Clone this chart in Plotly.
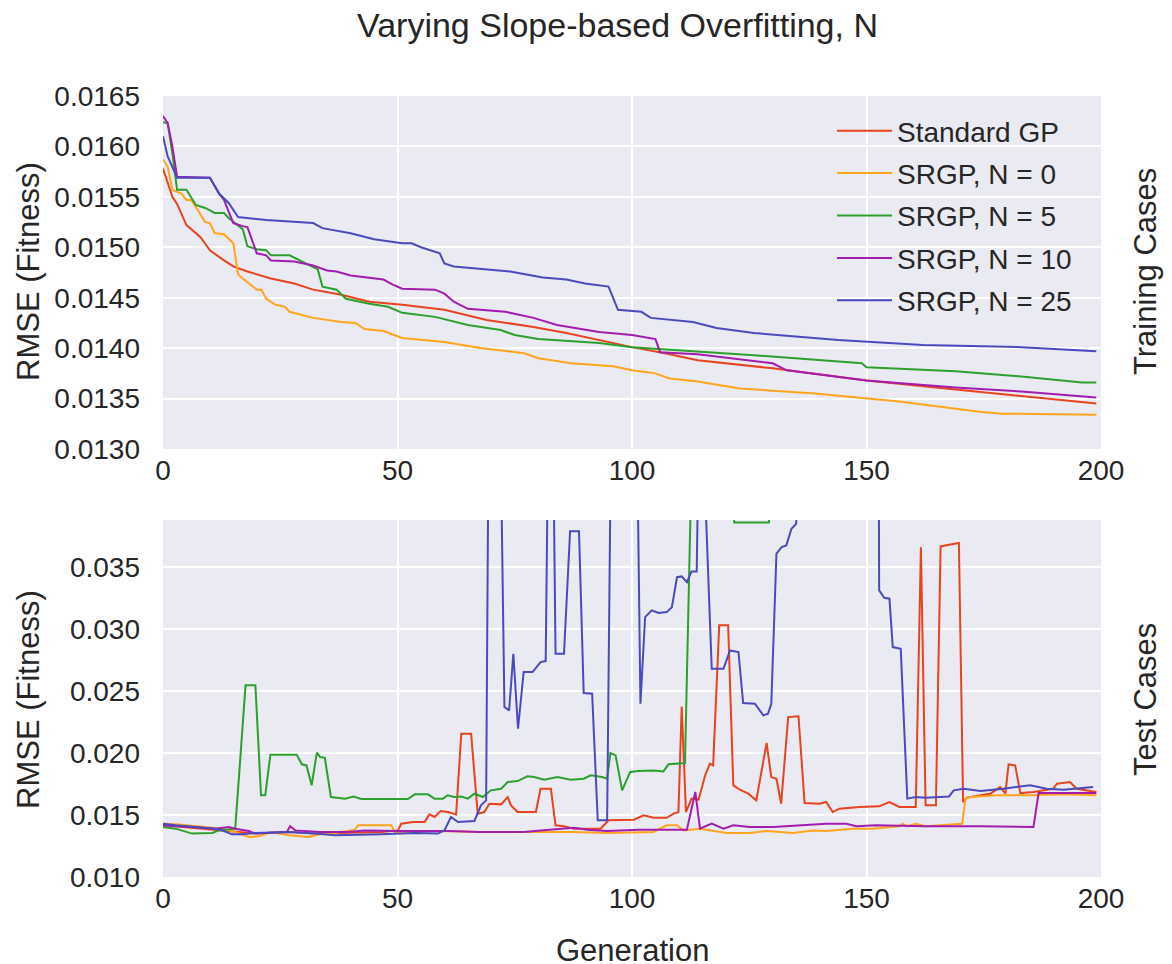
import plotly.graph_objects as go
from plotly.subplots import make_subplots

# ---------------- data ----------------
series_names = ["Standard GP", "SRGP, N = 0", "SRGP, N = 5", "SRGP, N = 10", "SRGP, N = 25"]
series_colors = ["#E8431F", "#FFA41C", "#2CA02C", "#A31CB0", "#4A4ABF"]

# Training cases (top panel)
train_gp_gen = [0, 2, 3, 5, 8, 10, 13, 15, 18, 23, 28, 32, 38, 44, 51, 60, 69, 79, 86, 93, 100, 107, 114, 130, 150, 169, 190, 199]
train_gp_rmse = [0.01578, 0.01550, 0.01543, 0.01522, 0.01510, 0.01497, 0.01487, 0.01481, 0.01476, 0.01469, 0.01464, 0.01458,
                 0.01453, 0.01446, 0.01443, 0.01438, 0.01428, 0.01421, 0.01415, 0.01408, 0.01401, 0.01395, 0.01388, 0.01380,
                 0.01368, 0.01359, 0.01349, 0.01345]

train_n0_gen = [0, 1, 2, 4, 5, 6, 7, 9, 10, 11, 13, 15, 16, 17, 20, 21, 22, 24, 26, 27, 32, 38, 41, 43, 47, 51, 60, 68, 77,
                80, 87, 96, 100, 105, 108, 114, 123, 139, 157, 174, 179, 199]
train_n0_rmse = [0.01587, 0.01580, 0.01557, 0.01553, 0.01547, 0.01547, 0.01540, 0.01525, 0.01524, 0.01514, 0.01513, 0.01504,
                 0.01473, 0.01469, 0.01458, 0.01458, 0.01449, 0.01443, 0.01441, 0.01436, 0.01430, 0.01426, 0.01425, 0.01419,
                 0.01417, 0.01410, 0.01406, 0.01400, 0.01395, 0.01390, 0.01385, 0.01382, 0.01378, 0.01375, 0.01370, 0.01367,
                 0.01360, 0.01355, 0.01347, 0.01337, 0.01335, 0.01334]

train_n5_gen = [0, 1, 2, 3, 5, 7, 9, 11, 13, 14, 17, 18, 20, 22, 23, 27, 30, 33, 34, 37, 39, 44, 48, 51, 58, 65, 72, 75, 80,
                86, 93, 100, 107, 114, 126, 149, 150, 169, 183, 196, 199]
train_n5_rmse = [0.01624, 0.01623, 0.01593, 0.01557, 0.01557, 0.01542, 0.01539, 0.01534, 0.01534, 0.01529, 0.01518, 0.01501,
                 0.01498, 0.01497, 0.01492, 0.01492, 0.01485, 0.01478, 0.01461, 0.01458, 0.01449, 0.01444, 0.01441, 0.01435,
                 0.01431, 0.01423, 0.01418, 0.01413, 0.01409, 0.01407, 0.01405, 0.01401, 0.01399, 0.01397, 0.01393, 0.01385,
                 0.01381, 0.01377, 0.01372, 0.01366, 0.01366]

train_n10_gen = [0, 1, 2, 3, 10, 12, 13, 15, 17, 18, 20, 22, 23, 28, 32, 35, 37, 40, 47, 49, 51, 58, 60, 62, 65, 73, 79, 84,
                 93, 100, 105, 106, 114, 130, 133, 150, 169, 183, 199]
train_n10_rmse = [0.01630, 0.01623, 0.01600, 0.01570, 0.01569, 0.01553, 0.01547, 0.01524, 0.01521, 0.01520, 0.01494, 0.01492,
                  0.01487, 0.01486, 0.01482, 0.01477, 0.01476, 0.01472, 0.01468, 0.01463, 0.01459, 0.01458, 0.01454, 0.01446,
                  0.01439, 0.01436, 0.01430, 0.01423, 0.01416, 0.01413, 0.01409, 0.01396, 0.01394, 0.01385, 0.01378, 0.01368,
                  0.01361, 0.01357, 0.01351]

train_n25_gen = [0, 1, 3, 10, 12, 14, 16, 18, 22, 32, 34, 40, 45, 51, 53, 55, 59, 60, 62, 74, 81, 86, 90, 95, 97, 102, 104,
                 113, 118, 126, 144, 162, 183, 199]
train_n25_rmse = [0.01610, 0.01590, 0.01569, 0.01569, 0.01553, 0.01544, 0.01530, 0.01529, 0.01527, 0.01524, 0.01519, 0.01514,
                  0.01508, 0.01504, 0.01504, 0.01500, 0.01494, 0.01484, 0.01481, 0.01476, 0.01470, 0.01468, 0.01464, 0.01461,
                  0.01438, 0.01436, 0.01430, 0.01426, 0.01420, 0.01415, 0.01408, 0.01403, 0.01401, 0.01397]

# Test cases (bottom panel); values above 0.0388 run off the top of the panel
test_gp_gen = [0, 12.6, 19.7, 26.8, 32.4, 46.6, 50.1, 50.8, 53.3, 55.8, 56.8, 57.9, 59.2, 60.7, 62.5, 63.6, 65.7, 67.1, 68.5,
               69.6, 72.1, 73.5, 74.2, 75.6, 79.5, 80.5, 82.7, 83.7, 85.5, 87.6, 93.3, 95, 97.5, 100.4, 102.5, 104.6, 107.4,
               108.9, 109.9, 110.6, 111.5, 112.7, 114.2, 115.6, 116.6, 117.3, 118.6, 120.5, 121.6, 123, 124.8, 126.5, 128.7,
               129.7, 130.8, 131.8, 133.3, 135.5, 136.8, 140, 141.4, 142.8, 144.2, 148.5, 152.7, 154.9, 157, 160.5, 161.6,
               162.6, 164.8, 165.8, 167.6, 169.7, 170.6, 171.4, 174.3, 176.4, 178.5, 179.6, 180.3, 181.7, 182.8, 185.6,
               189.8, 190.6, 193.4, 194.8, 199]
test_gp_rmse = [0.01417, 0.01376, 0.01350, 0.01363, 0.01350, 0.01363, 0.01376, 0.01430, 0.01444, 0.01444, 0.01505, 0.01484,
                0.01532, 0.01524, 0.01505, 0.02156, 0.02156, 0.01511, 0.01524, 0.01591, 0.01586, 0.01645, 0.01578, 0.01524,
                0.01524, 0.01712, 0.01712, 0.01417, 0.01409, 0.01390, 0.01390, 0.01457, 0.01462, 0.01462, 0.01497, 0.01478,
                0.01478, 0.01511, 0.01524, 0.02376, 0.01524, 0.01632, 0.01624, 0.01820, 0.01914, 0.01900, 0.03030, 0.03030,
                0.01739, 0.01704, 0.01672, 0.01618, 0.02081, 0.01806, 0.01793, 0.01591, 0.02290, 0.02296, 0.01597, 0.01591,
                0.01605, 0.01524, 0.01551, 0.01565, 0.01570, 0.01605, 0.01565, 0.01565, 0.03661, 0.01578, 0.01578, 0.03667,
                0.03680, 0.03694, 0.01605, 0.01640, 0.01659, 0.01672, 0.01726, 0.01672, 0.01909, 0.01900, 0.01677, 0.01685,
                0.01712, 0.01753, 0.01766, 0.01712, 0.01685]

test_n0_gen = [0, 2.7, 9, 12.6, 15.4, 18.3, 20.4, 23.2, 26.8, 31, 33.5, 36.7, 40.9, 41.6, 48.7, 49.4, 60.7, 67.4, 87.6, 94.7,
               104.6, 107.4, 109.6, 111, 114.5, 117.3, 120.2, 125.1, 128.7, 134.3, 138.6, 141.4, 143.5, 147.1, 151.3, 157,
               157.7, 158.7, 160.5, 162.6, 170.4, 171.1, 172.1, 177.8, 184.9, 192, 199]
test_n0_rmse = [0.01430, 0.01425, 0.01403, 0.01390, 0.01363, 0.01323, 0.01328, 0.01363, 0.01336, 0.01323, 0.01344, 0.01355,
                0.01382, 0.01417, 0.01417, 0.01363, 0.01371, 0.01363, 0.01363, 0.01355, 0.01363, 0.01417, 0.01417, 0.01376,
                0.01390, 0.01371, 0.01355, 0.01355, 0.01371, 0.01355, 0.01376, 0.01371, 0.01376, 0.01390, 0.01390, 0.01409,
                0.01430, 0.01409, 0.01430, 0.01409, 0.01430, 0.01632, 0.01645, 0.01659, 0.01659, 0.01667, 0.01659]

test_n5_gen = [0, 2.7, 6.2, 10.5, 11.9, 13.3, 15.4, 17.6, 19.7, 20.9, 21.8, 22.9, 28.5, 29.6, 30.6, 31.7, 32.8, 33.5, 34.5,
               35.8, 38.8, 40.6, 42.3, 52.2, 53.7, 56.5, 57.9, 59.7, 60.7, 62.1, 63.6, 65, 66.4, 68.2, 69.9, 72.1, 73.5, 75.6,
               77.7, 79.1, 81.3, 84.1, 86.9, 89.7, 91.2, 93.6, 94.7, 95.4, 96.5, 97.9, 99.6, 101.4, 104.6, 106.7, 107.8,
               111.3, 112.8, 121.4, 121.8, 129.2, 129.6, 199]
test_n5_rmse = [0.01403, 0.01390, 0.01350, 0.01355, 0.01376, 0.01380, 0.01390, 0.02546, 0.02546, 0.01659, 0.01659, 0.01987,
                0.01987, 0.01909, 0.01900, 0.01740, 0.02003, 0.01968, 0.01962, 0.01645, 0.01632, 0.01650, 0.01629, 0.01629,
                0.01667, 0.01667, 0.01632, 0.01632, 0.01659, 0.01645, 0.01650, 0.01632, 0.01672, 0.01645, 0.01699, 0.01712,
                0.01766, 0.01774, 0.01812, 0.01806, 0.01785, 0.01806, 0.01785, 0.01793, 0.01820, 0.01806, 0.01793, 0.02000,
                0.01981, 0.01699, 0.01847, 0.01855, 0.01860, 0.01852, 0.01909, 0.01919, 0.04500, 0.04500, 0.03860, 0.03860,
                0.04500, 0.04500]

test_n10_gen = [0, 11.2, 14, 15.4, 18.3, 19.7, 26.4, 27.1, 28.2, 33.5, 39.5, 43, 50.1, 60.7, 67.4, 77, 80.5, 87.6, 90.5,
                94.7, 101.4, 111.7, 113.5, 114.5, 117, 119.5, 121.6, 125.1, 130.1, 135.4, 141.4, 145.7, 147.8, 152, 162.6,
                174.3, 185.6, 186.7, 192, 199]
test_n10_rmse = [0.01417, 0.01390, 0.01403, 0.01390, 0.01371, 0.01350, 0.01363, 0.01409, 0.01376, 0.01363, 0.01363, 0.01376,
                 0.01371, 0.01371, 0.01363, 0.01363, 0.01376, 0.01398, 0.01382, 0.01371, 0.01382, 0.01382, 0.01686, 0.01390,
                 0.01430, 0.01390, 0.01417, 0.01403, 0.01403, 0.01417, 0.01430, 0.01430, 0.01409, 0.01417, 0.01409, 0.01409,
                 0.01403, 0.01677, 0.01677, 0.01677]

test_n25_gen = [0, 2.7, 11.2, 12.6, 14.7, 16.8, 19.7, 26.8, 32.4, 36.7, 46.6, 53.7, 58.6, 60, 61.4, 62.9, 66.4, 67.8, 68.9,
                69.4, 72.0, 72.8, 73.8, 74.7, 75.7, 76.9, 78.8, 80.5, 81.6, 82.1, 83.2, 83.7, 85.5, 86.8, 88.7, 89.7, 91.5,
                92.7, 94.7, 95.5, 101.1, 101.8, 102.8, 104.2, 105.7, 107.4, 108.5, 109.6, 110.6, 111.7, 112.7, 113.8, 114.2,
                115.2, 117, 119.5, 120.9, 122.7, 123.7, 126.2, 128, 129, 129.7, 130.8, 131.9, 132.9, 134, 135, 135.7, 152.6,
                152.7, 153.8, 154.9, 155.6, 157.3, 158.7, 160.5, 162.6, 167.6, 168.6, 170.7, 174.3, 179.2, 184.9, 188.4,
                192, 198.3]
test_n25_rmse = [0.01430, 0.01417, 0.01390, 0.01376, 0.01344, 0.01344, 0.01355, 0.01363, 0.01350, 0.01336, 0.01344, 0.01355,
                 0.01350, 0.01376, 0.01484, 0.01444, 0.01452, 0.01578, 0.01618, 0.04500, 0.04500, 0.02371, 0.02344, 0.02801,
                 0.02196, 0.02653, 0.02653, 0.02734, 0.02742, 0.04500, 0.04500, 0.02801, 0.02801, 0.03790, 0.03790, 0.02484,
                 0.02478, 0.01457, 0.01457, 0.04500, 0.04500, 0.02398, 0.03097, 0.03151, 0.03130, 0.03137, 0.03177, 0.03419,
                 0.03425, 0.03379, 0.03465, 0.03465, 0.04500, 0.04500, 0.02680, 0.02680, 0.02828, 0.02815, 0.02403, 0.02398,
                 0.02304, 0.02317, 0.02398, 0.03608, 0.03661, 0.03675, 0.03809, 0.03850, 0.04500, 0.04500, 0.03312, 0.03253,
                 0.03245, 0.02855, 0.02841, 0.01632, 0.01645, 0.01640, 0.01650, 0.01699, 0.01712, 0.01694, 0.01712, 0.01740,
                 0.01712, 0.01704, 0.01726]

x_ticks = [0, 50, 100, 150, 200]
train_y_ticks = [0.0130, 0.0135, 0.0140, 0.0145, 0.0150, 0.0155, 0.0160, 0.0165]
test_y_ticks = [0.010, 0.015, 0.020, 0.025, 0.030, 0.035]

train_gens = [train_gp_gen, train_n0_gen, train_n5_gen, train_n10_gen, train_n25_gen]
train_vals = [train_gp_rmse, train_n0_rmse, train_n5_rmse, train_n10_rmse, train_n25_rmse]
test_gens = [test_gp_gen, test_n0_gen, test_n5_gen, test_n10_gen, test_n25_gen]
test_vals = [test_gp_rmse, test_n0_rmse, test_n5_rmse, test_n10_rmse, test_n25_rmse]

# ---------------- figure ----------------
OFF = 8                      # page body margin in the browser
W, H = 1172 - OFF, 964 - OFF
PL, PR, PT, PB = 163, 1101, 96, 877   # plot block edges in page pixels
ML, MR, MT, MB = PL - OFF, W - (PR - OFF), PT - OFF, H - (PB - OFF)
plot_h = H - MT - MB
plot_w = W - ML - MR

def py(px):  # page pixel row -> paper y
    return (PB - px) / plot_h

def pxx(px):  # page pixel column -> paper x
    return (px - PL) / plot_w

fig = make_subplots(rows=2, cols=1)

for i in range(5):
    fig.add_trace(go.Scatter(x=train_gens[i], y=train_vals[i], mode="lines", name=series_names[i],
                             line=dict(color=series_colors[i], width=2), legendgroup=f"g{i}"), row=1, col=1)
for i in range(5):
    fig.add_trace(go.Scatter(x=test_gens[i], y=test_vals[i], mode="lines", name=series_names[i], showlegend=False,
                             line=dict(color=series_colors[i], width=2), legendgroup=f"g{i}"), row=2, col=1)

FONT = "Liberation Sans, Arial, sans-serif"
TXT = "#262626"
BG = "#EAEAF2"

axis_common = dict(showgrid=True, gridcolor="white", gridwidth=1.6, zeroline=False, showline=False, ticks="",
                   automargin=False, tickfont=dict(family=FONT, size=28, color=TXT))

fig.update_xaxes(range=[0, 200], tickvals=x_ticks, ticklabelstandoff=2, **axis_common)
fig.update_yaxes(ticklabelstandoff=22, **axis_common)
fig.update_yaxes(range=[0.0130, 0.0165], tickvals=train_y_ticks, tickformat=".4f", row=1, col=1)
fig.update_yaxes(range=[0.0100, 0.0388], tickvals=test_y_ticks, tickformat=".3f", row=2, col=1)

fig.update_layout(
    width=W, height=H,
    margin=dict(l=ML, r=MR, t=MT, b=MB),
    paper_bgcolor="white", plot_bgcolor=BG,
    font=dict(family=FONT, color=TXT),
    xaxis=dict(domain=[0, 1], anchor="y"),
    xaxis2=dict(domain=[0, 1], anchor="y2"),
    yaxis=dict(domain=[py(449), 1.0]),
    yaxis2=dict(domain=[0.0, py(520)]),
    showlegend=True,
    legend=dict(x=pxx(832), y=py(106), xanchor="left", yanchor="top", bgcolor="rgba(0,0,0,0)",
                font=dict(family=FONT, size=28, color=TXT), tracegroupgap=3, traceorder="grouped",
                itemwidth=55),
)

ann_font = dict(family=FONT, size=31, color=TXT)
annots = [
    dict(text="Varying Slope-based Overfitting, N", x=pxx(617), y=py(25), font=dict(family=FONT, size=34, color=TXT)),
    dict(text="RMSE (Fitness)", x=pxx(28), y=py(272), textangle=-90, font=ann_font),
    dict(text="RMSE (Fitness)", x=pxx(28), y=py(700), textangle=-90, font=ann_font),
    dict(text="Training Cases", x=pxx(1145), y=py(272), textangle=-90, font=ann_font),
    dict(text="Test Cases", x=pxx(1145), y=py(700), textangle=-90, font=ann_font),
    dict(text="Generation", x=pxx(632), y=py(950), font=ann_font),
]
for a in annots:
    fig.add_annotation(xref="paper", yref="paper", showarrow=False, xanchor="center", yanchor="middle", **a)

fig.write_html("out.html")
